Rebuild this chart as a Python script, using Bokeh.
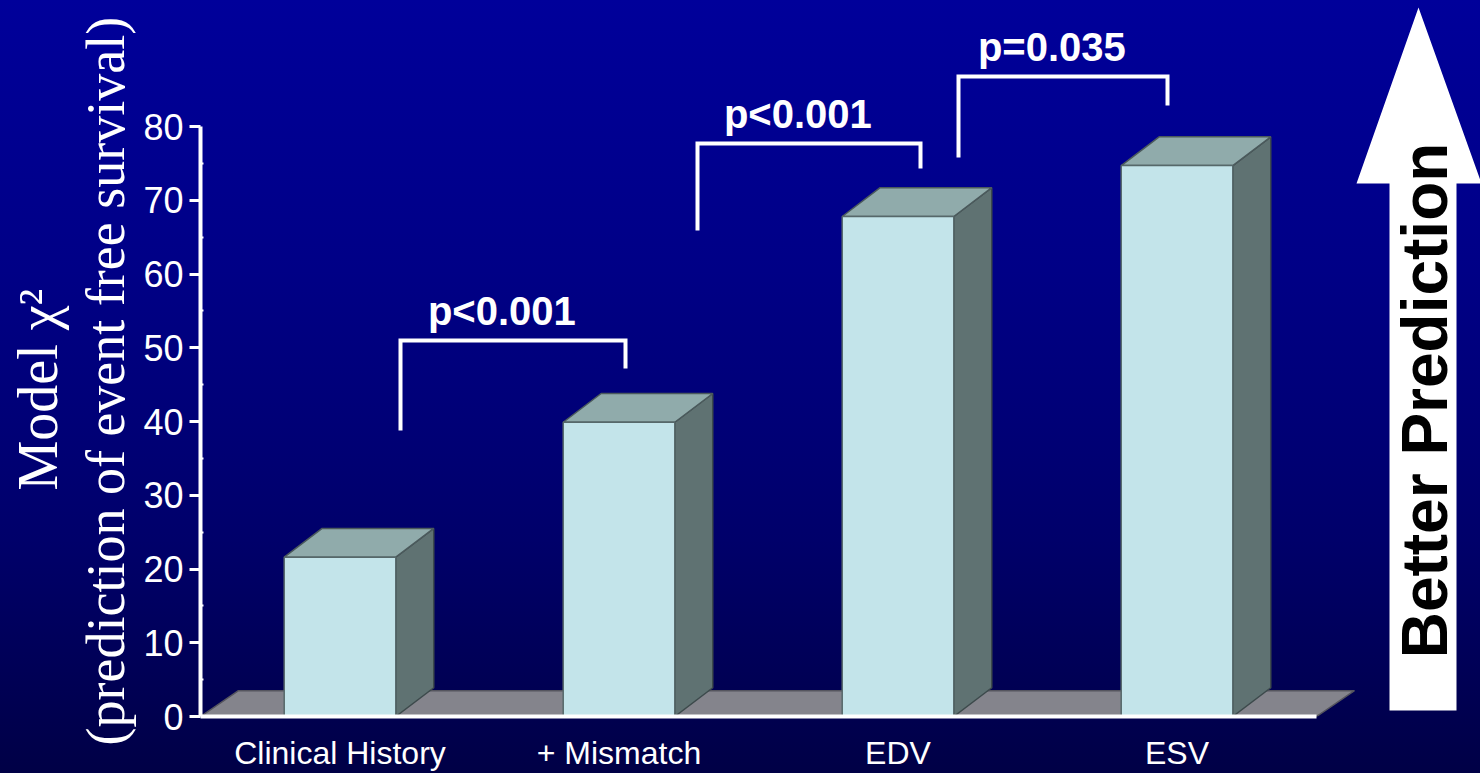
import math

from bokeh.core.properties import value
from bokeh.embed import file_html
from bokeh.models import ColumnDataSource, FixedTicker, Range1d, Title
from bokeh.plotting import figure
from bokeh.resources import INLINE

# ---- data -------------------------------------------------------------
categories = ["Clinical History", "+ Mismatch", "EDV", "ESV"]
model_chi2 = [21.6, 39.9, 67.8, 74.7]
y_ticks = [0, 10, 20, 30, 40, 50, 60, 70, 80]

comparison_labels = ["p<0.001", "p<0.001", "p=0.035"]

# ---- layout -----------------------------------------------------------
W, H = 1480, 773
LEFT, BOTTOM = 200, 57
PX_PER_X = 279.0          # pixels per category step
PX_PER_Y = 7.375          # pixels per chi-square unit
X0 = 0.5
X_END = X0 + (W - LEFT) / PX_PER_X
Y_END = (H - BOTTOM) / PX_PER_Y

BAR_HALF = 0.2            # half bar width (category units)
DX, DY = 0.136, 3.9       # oblique depth of the 3-D bars and floor
FLOOR_DY = 3.5


def xs(px):
    """canvas pixel column -> x data"""
    return X0 + (px - LEFT) / PX_PER_X


def ys(py):
    """canvas pixel row -> y data"""
    return (H - BOTTOM - py) / PX_PER_Y


FONT_SANS = "Liberation Sans"
FONT_SERIF = "Liberation Serif"

p = figure(
    width=W, height=H,
    x_range=Range1d(X0, X_END), y_range=Range1d(0, Y_END),
    output_backend="svg", toolbar_location=None,
    min_border_left=LEFT, min_border_right=0,
    min_border_top=0, min_border_bottom=BOTTOM,
)
p.styles = {"background": "linear-gradient(to bottom, #00009a 0%, #000086 35%, #00006a 70%, #000046 100%)"}
p.background_fill_alpha = 0
p.border_fill_alpha = 0
p.outline_line_color = None
p.xgrid.visible = False
p.ygrid.visible = False

# ---- floor ------------------------------------------------------------
n = len(categories)
fx0, fx1 = X0, n + 0.5
p.patch([fx0, fx1, fx1 + DX, fx0 + DX], [0, 0, FLOOR_DY, FLOOR_DY],
        fill_color="#84848c", line_color="#55555e", line_width=1.5)

# ---- 3-D bars ---------------------------------------------------------
pos = [i + 1 for i in range(n)]
left = [x - BAR_HALF for x in pos]
right = [x + BAR_HALF for x in pos]

side_xs = [[r, r + DX, r + DX, r] for r in right]
side_ys = [[0, DY, v + DY, v] for v in model_chi2]
top_xs = [[l, r, r + DX, l + DX] for l, r in zip(left, right)]
top_ys = [[v, v, v + DY, v + DY] for v in model_chi2]

p.patches(side_xs, side_ys, fill_color="#5f7272", line_color="#3d4a4c", line_width=1.5)
p.patches(top_xs, top_ys, fill_color="#90abab", line_color="#4b5a5c", line_width=1.5)
bars = ColumnDataSource(dict(left=left, right=right, top=model_chi2, bottom=[0] * n))
p.quad(left="left", right="right", top="top", bottom="bottom", source=bars,
       fill_color="#c3e4ea", line_color="#56686a", line_width=1.5)

# ---- significance brackets -------------------------------------------
# (left x, right x, top, left-leg foot, right-leg foot) in data units
bracket_geom = [
    (xs(400), xs(625), ys(340), ys(430), ys(368)),
    (xs(697), xs(920), ys(143), ys(230), ys(168)),
    (xs(958), xs(1167), ys(76), ys(157), ys(105)),
]
b_xs = [[a, a, b, b] for a, b, t, fl, fr in bracket_geom]
b_ys = [[fl, t, t, fr] for a, b, t, fl, fr in bracket_geom]
p.multi_line(b_xs, b_ys, line_color="white", line_width=4, line_join="miter")

txt = ColumnDataSource(dict(
    x=[(a + b) / 2 - 0.04 for a, b, *_ in bracket_geom],
    y=[t + 4.0 for _, _, t, *_ in bracket_geom],
    text=comparison_labels,
))
p.text(x="x", y="y", text="text", source=txt, text_color="white",
       text_font=value(FONT_SANS), text_font_style="bold", text_font_size="40px",
       text_align="center", text_baseline="alphabetic")

# ---- "Better Prediction" arrow ---------------------------------------
sl, sr, hl, hr, tip = xs(1389), xs(1456), xs(1356), xs(1481), xs(1418)
hb, top_y, bot_y = ys(183), ys(7), ys(710)
p.patch([sl, sl, hl, tip, hr, sr, sr], [bot_y, hb, hb, top_y, hb, hb, bot_y],
        fill_color="white", line_color=None)
p.text(x=[xs(1424)], y=[ys(400)], text=["Better Prediction"], angle=math.pi / 2,
       text_color="black", text_font=value(FONT_SANS), text_font_style="bold",
       text_font_size="64px", text_align="center", text_baseline="middle")

# ---- axes -------------------------------------------------------------
ya = p.yaxis[0]
ya.ticker = FixedTicker(ticks=y_ticks, minor_ticks=[t + 5 for t in y_ticks[:-1]])
ya.bounds = (0, 80)
ya.axis_line_color = "white"
ya.axis_line_width = 4
ya.major_tick_line_color = "white"
ya.major_tick_line_width = 3
ya.major_tick_out = 11
ya.major_tick_in = 0
ya.minor_tick_line_color = "white"
ya.minor_tick_line_width = 2
ya.minor_tick_in = 3
ya.minor_tick_out = 0
ya.major_label_text_color = "white"
ya.major_label_text_font = FONT_SANS
ya.major_label_text_font_size = "36px"
ya.major_label_standoff = 6

xa = p.xaxis[0]
xa.ticker = FixedTicker(ticks=pos)
xa.major_label_overrides = {x: c for x, c in zip(pos, categories)}
xa.bounds = (X0, n + 0.5)
xa.axis_line_color = "white"
xa.axis_line_width = 4
xa.major_tick_line_color = None
xa.minor_tick_line_color = None
xa.major_tick_out = 0
xa.major_tick_in = 0
xa.major_label_text_color = "white"
xa.major_label_text_font = FONT_SANS
xa.major_label_text_font_size = "32px"
xa.major_label_standoff = 18

# ---- y-axis title (two serif lines, stacked outward from the axis) ----
p.add_layout(Title(text="(prediction of event free survival)", align="left", offset=-29,
                   vertical_align="bottom", standoff=10,
                   text_color="white", text_font=FONT_SERIF, text_font_style="normal",
                   text_font_size="54px"), "left")
p.add_layout(Title(text="Model χ²", align="left", offset=226,
                   vertical_align="bottom", standoff=0,
                   text_color="white", text_font=FONT_SERIF, text_font_style="normal",
                   text_font_size="56px"), "left")

open("out.html", "w").write(file_html(p, INLINE))
